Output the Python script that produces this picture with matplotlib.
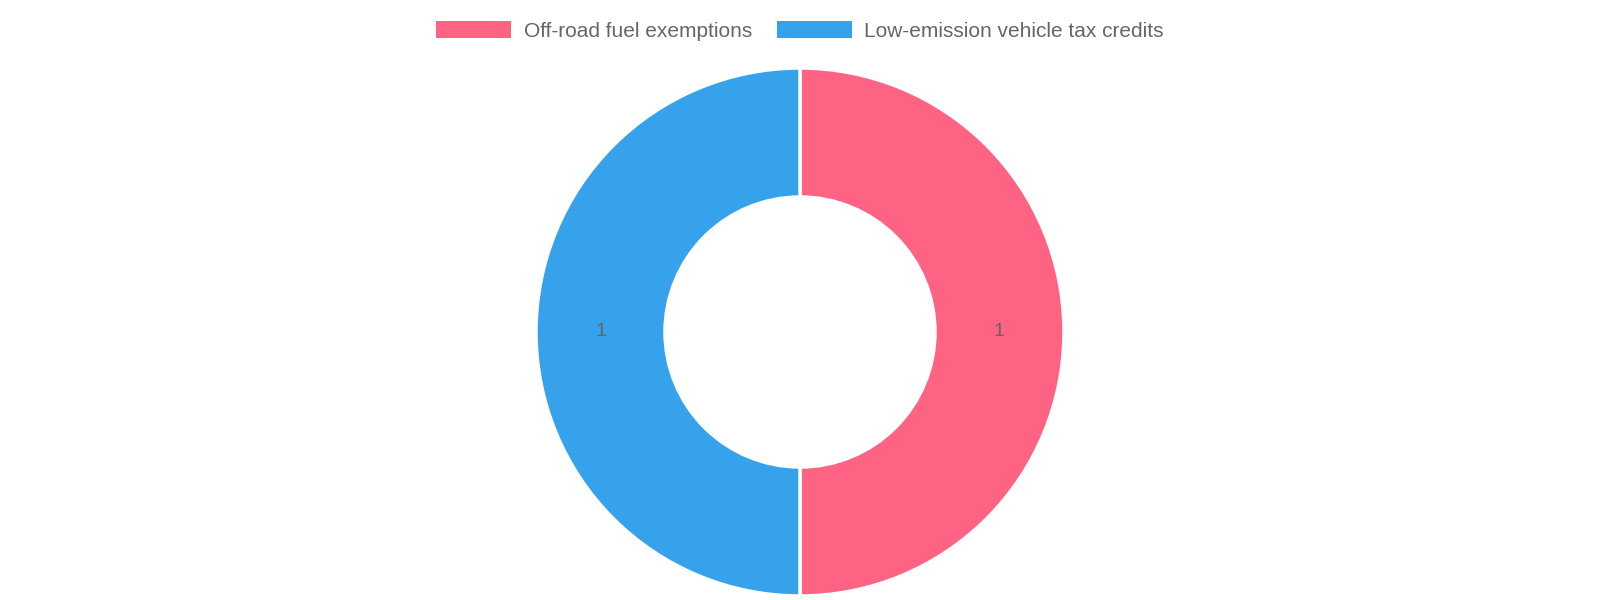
import matplotlib
matplotlib.use("Agg")
import matplotlib.pyplot as plt
from matplotlib.patches import Patch

categories = ["Off-road fuel exemptions", "Low-emission vehicle tax credits"]
values = [1, 1]
colors = ["#FF6384", "#36A2EB"]

plt.rcParams['font.family'] = ['Liberation Sans', 'DejaVu Sans']
fig = plt.figure(figsize=(16, 6), dpi=100)
ax = fig.add_axes([0, 0, 1, 1])
ax.pie(values, colors=colors, startangle=90, counterclock=False,
       center=(800, 600 - 332), radius=264,
       wedgeprops=dict(width=264 - 135, edgecolor='white', linewidth=2.5),
       autopct=lambda p: f"{p * sum(values) / 100:.0f}", pctdistance=0.755,
       textprops=dict(color='#666666', fontsize=14))
ax.set_xlim(0, 1600)
ax.set_ylim(0, 600)
ax.set_aspect('auto')
ax.axis('off')
handles = [Patch(facecolor=c, edgecolor='none') for c in colors]
fig.legend(handles, categories, loc='upper center', bbox_to_anchor=(0.5, 1.0),
           ncol=2, frameon=False, fontsize=15, labelcolor='#666666',
           handlelength=3.6, handleheight=0.9, handletextpad=0.6, columnspacing=1.2,
           borderaxespad=0.6)
fig.savefig("out.png", dpi=100)
